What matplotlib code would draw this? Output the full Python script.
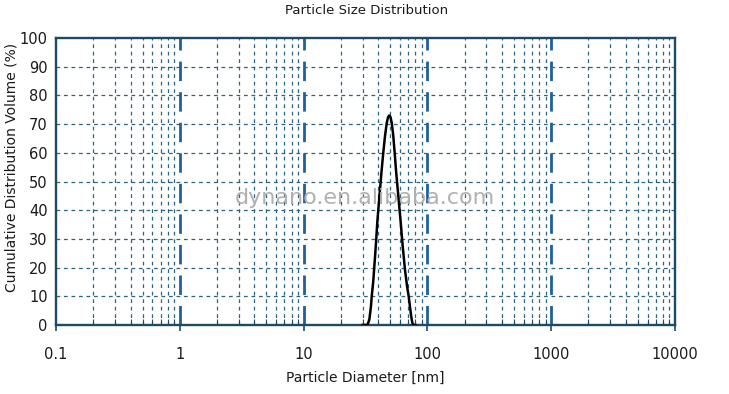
import matplotlib.pyplot as plt
import numpy as np
from matplotlib.ticker import FixedLocator, NullFormatter

# particle size distribution
diameter_nm = [30, 32, 33, 34, 35, 35.5, 36.5, 37.5, 38.5, 39.4, 41, 42.5, 44, 45.5,
               47, 48.2, 49.2, 50.3, 51.5, 53, 54.4, 56, 58.5, 60.8, 63, 66, 68.5,
               70.6, 72.5, 74, 75.5, 77, 80]
volume_pct = [0, 0, 0.3, 2, 6.5, 10, 15, 22, 29, 36, 45, 53, 60, 66,
              70.5, 72.5, 73, 72.5, 70.5, 66, 60, 53, 44, 36, 28, 19, 13.5,
              10, 6, 3, 0.8, 0, 0]

x_ticks = [0.1, 1, 10, 100, 1000, 10000]
x_tick_labels = ['0.1', '1', '10', '100', '1000', '10000']
y_ticks = list(range(0, 101, 10))

frame_col = '#1d4a66'
grid_col = '#2b6583'
major_col = '#1f5f9a'
text_col = '#1a1a1a'

plt.rcParams['font.family'] = ['DejaVu Sans']

fig = plt.figure(figsize=(7.29, 3.94), dpi=100)
ax = fig.add_axes([56 / 729, 1 - 325 / 394, 619 / 729, 287 / 394])

ax.set_xscale('log')
ax.set_xlim(0.1, 10000)
ax.set_ylim(0, 100)

# grid: minor decades thin dashed, decades thick dashed, horizontals thin dashed
minor_x = [m * 10.0 ** e for e in range(-1, 4) for m in range(2, 10)]
for xv in minor_x:
    ax.axvline(xv, color=grid_col, lw=0.9, ls=(0, (3, 3)), zorder=1)
for xv in x_ticks[1:-1]:
    ax.axvline(xv, color=major_col, lw=2.0, ls=(0, (7, 4)), zorder=1)
for yv in y_ticks[1:-1]:
    ax.axhline(yv, color=grid_col, lw=0.9, ls=(0, (3, 3)), zorder=1)

ax.plot(diameter_nm, volume_pct, color='black', lw=1.8, zorder=3)

ax.text(365, 196, 'dynano.en.alibaba.com', transform=None, fontsize=16,
        color='#b0b0b0', ha='center', va='center', zorder=4)

ax.xaxis.set_major_locator(FixedLocator(x_ticks))
ax.set_xticklabels(x_tick_labels)
ax.xaxis.set_minor_locator(FixedLocator(minor_x))
ax.xaxis.set_minor_formatter(NullFormatter())
ax.set_yticks(y_ticks)

ax.tick_params(axis='x', which='major', direction='out', length=4, width=1.2,
               color=frame_col, labelsize=10.5, labelcolor=text_col, pad=12)
ax.tick_params(axis='x', which='minor', direction='in', length=4, width=0.8,
               color=frame_col)
ax.tick_params(axis='y', direction='out', length=0, labelsize=10.5,
               labelcolor=text_col, pad=6)

for s in ax.spines.values():
    s.set_color(frame_col)
    s.set_linewidth(1.7)

ax.set_xlabel('Particle Diameter [nm]', fontsize=10, labelpad=6, color=text_col)
fig.text(12 / 729, 1 - 167 / 394, 'Cumulative Distribution Volume (%)',
         fontsize=10, rotation=90, ha='center', va='center', color=text_col)
fig.text(367 / 729, 1 - 11 / 394, 'Particle Size Distribution', fontsize=9.5,
         ha='center', va='center', color=text_col)

fig.savefig('out.png', dpi=100)
